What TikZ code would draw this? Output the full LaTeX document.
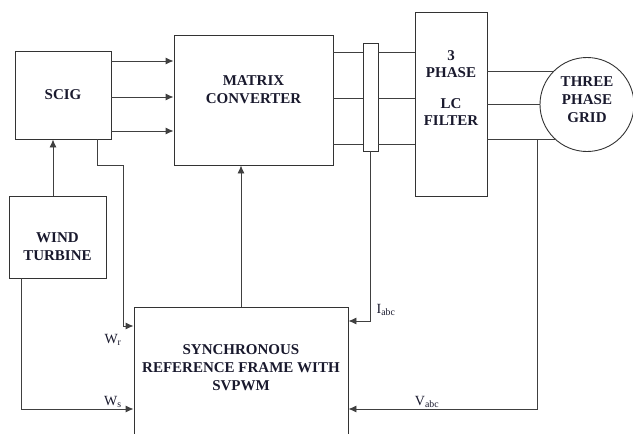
\documentclass[tikz,border=0pt]{standalone}
\usepackage{fontspec}
\setmainfont{Liberation Serif}
\usetikzlibrary{arrows.meta, positioning, calc}
\definecolor{ink}{RGB}{25,25,45}
\tikzset{
  box/.style={draw=black!80, line width=0.9pt, inner sep=0pt, font=\fontsize{15}{18}\selectfont\bfseries, align=center, text=ink},
  txt/.style={font=\fontsize{15}{18}\selectfont\bfseries, align=center, text=ink, inner sep=0pt},
  wire/.style={draw=black!75, line width=0.9pt},
  arr/.style={wire, -{Latex[length=8pt, width=7pt]}},
  sig/.style={font=\fontsize{14}{16}\selectfont, text=ink, inner sep=0pt},
}
\begin{document}
\begin{tikzpicture}[x=1pt, y=-1pt]
    \useasboundingbox (0,0) rectangle (633,434);
    \clip (0,0) rectangle (633,434);
    % blocks
    \node[box, minimum width=96pt, minimum height=88pt] (scig) at (63,95) {SCIG};
    \node[box, minimum width=159pt, minimum height=130pt,
      label={[txt, yshift=10pt]center:MATRIX\\CONVERTER}] (mc) at (253.5,100) {};
    \node[box, minimum width=15pt, minimum height=108pt] (ct) at (370.5,97) {};
    \node[box, minimum width=72pt, minimum height=184pt,
      label={[txt, font=\fontsize{15}{17}\selectfont\bfseries, yshift=16pt]center:3\\PHASE\\[14pt]LC\\FILTER}] (lcf) at (451,104) {};
    \node[box, circle, minimum size=94pt,
      label={[txt, yshift=5pt]center:THREE\\PHASE\\GRID}] (grid) at (587,104.5) {};
    \node[box, minimum width=97pt, minimum height=82pt,
      label={[txt, yshift=-10pt]center:WIND\\TURBINE}] (wt) at (57.5,237) {};
    \node[box, minimum width=214pt, minimum height=150pt,
      label={[txt, yshift=14.5pt]center:SYNCHRONOUS\\REFERENCE FRAME WITH\\SVPWM}] (srf) at (241,382) {};
    % power path
    \foreach \y in {61,97,131}
      \draw[arr] (scig.east |- 0,\y) -- (mc.west |- 0,\y);
    \foreach \y in {52,98,144} {
      \draw[wire] (mc.east |- 0,\y) -- (ct.west |- 0,\y);
      \draw[wire] (ct.east |- 0,\y) -- (lcf.west |- 0,\y);
    }
    \foreach \a in {136,180,227}
      \draw[wire] (lcf.east |- grid.\a) -- (grid.\a);
    \draw[arr] ([xshift=-4.5pt]wt.north) -- ([xshift=-10pt]scig.south);
    % feedback signals
    \coordinate (vtap) at (537,139);
    \draw[arr] (srf.north) -- ([xshift=-12.5pt]mc.south);
    \draw[arr] ([xshift=34pt]scig.south) |- (123,165) |- (srf.west |- 0,326);
    \draw[arr] ([xshift=-36.5pt]wt.south) |- (srf.west |- 0,409);
    \draw[arr] (ct.south) |- (srf.east |- 0,321);
    \draw[arr] (vtap) |- (srf.east |- 0,409);
    \node[sig] (wr) at (113,340) {W\textsubscript{r}};
    \node[sig] (ws) at (113,402) {W\textsubscript{s}};
    \node[sig] (iabc) at (386,310) {I\textsubscript{abc}};
    \node[sig] (vabc) at (427,402) {V\textsubscript{abc}};
\end{tikzpicture}
\end{document}
